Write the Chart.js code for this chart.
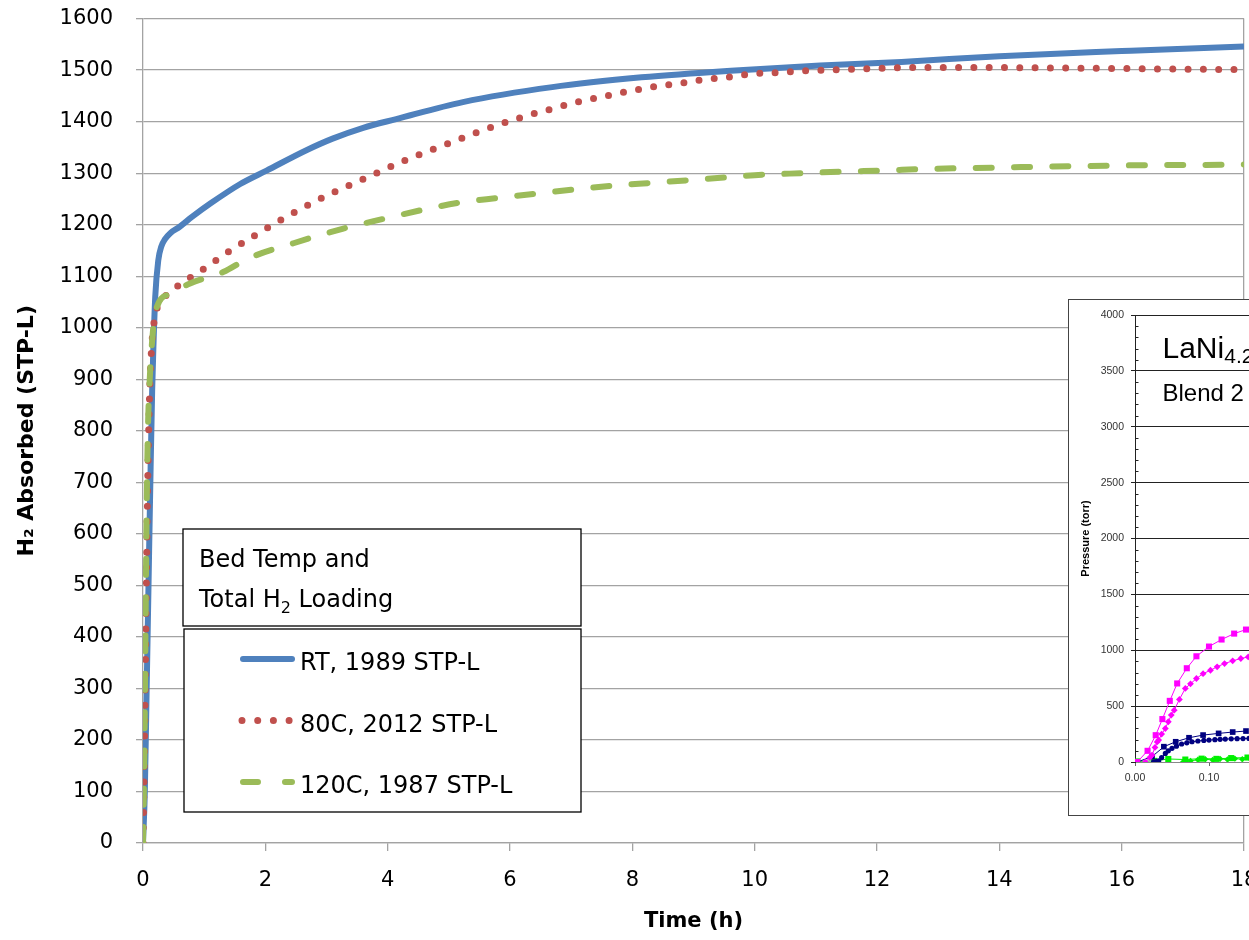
<!DOCTYPE html>
<html>
<head>
<meta charset="utf-8">
<script src="https://cdn.jsdelivr.net/npm/chart.js@4.4.1/dist/chart.umd.min.js"></script>
<style>
html, body { margin: 0; padding: 0; background: #fff; overflow: hidden; width: 1249px; height: 940px; }
#main { position: absolute; left: 0; top: -17px; }
#insetBox { position: absolute; left: 1068px; top: 299px; width: 460px; height: 515px;
  border: 1.5px solid #444; border-right: none; background: #fff; }
#inset { display: block; }
</style>
</head>
<body>
<canvas id="main" width="1300" height="957"></canvas>
<div id="insetBox"><canvas id="inset" width="380" height="515"></canvas></div>
<script>
// ---- main chart data (Time h / H2 absorbed STP-L) ----
const seriesLabels = ["RT, 1989 STP-L", "80C, 2012 STP-L", "120C, 1987 STP-L"];
const legendTitle = ["Bed Temp and", "Total H", "2", " Loading"];

const timeRT = [0, 0.03, 0.06, 0.09, 0.12, 0.15, 0.17, 0.2, 0.25, 0.3, 0.36, 0.45, 0.6, 0.8, 1.1, 1.59, 2.02, 2.68, 3.1, 3.6, 4.14, 5.23, 6.69, 8.15, 9.61, 11.07, 12.4, 14, 16, 18, 18.3];
const h2RT   = [0, 100, 300, 500, 700, 880, 962, 1060, 1131, 1158, 1172, 1184, 1196, 1215, 1241, 1279, 1305, 1345, 1367, 1388, 1405, 1438, 1467, 1486, 1499, 1509, 1516, 1527, 1537, 1546, 1547];

const time80 = [0, 0.02, 0.04, 0.06, 0.08, 0.11, 0.14, 0.17, 0.21, 0.33, 0.58, 0.99, 1.39, 1.8, 2.21, 2.62, 3.03, 3.44, 3.85, 4.25, 4.69, 5.09, 5.48, 5.89, 6.29, 6.69, 7.13, 7.53, 7.9, 8.37, 8.76, 9.12, 9.61, 9.98, 10.34, 10.86, 11.44, 12.17, 12.75, 14, 15, 16, 17, 18, 18.3];
const h280   = [0, 150, 350, 550, 720, 880, 960, 1001, 1030, 1056, 1082, 1114, 1147, 1177, 1206, 1233, 1258, 1280, 1302, 1323, 1344, 1362, 1380, 1397, 1412, 1425, 1439, 1449, 1458, 1468, 1474, 1481, 1487, 1493, 1495, 1499, 1501, 1504, 1505, 1505, 1504, 1503, 1502, 1501, 1501];

const time120 = [0, 0.02, 0.04, 0.06, 0.08, 0.11, 0.14, 0.2, 0.44, 0.77, 1.31, 1.73, 2.46, 3.26, 3.92, 4.58, 5.23, 5.82, 6.47, 7.1, 7.72, 8.3, 8.88, 9.54, 10.12, 10.78, 11.44, 12.1, 12.75, 14, 16, 18, 18.3];
const h2120   = [0, 150, 400, 650, 800, 900, 960, 1030, 1066, 1086, 1108, 1135, 1164, 1192, 1211, 1229, 1244, 1252, 1261, 1269, 1276, 1281, 1286, 1292, 1297, 1300, 1303, 1305, 1308, 1311, 1315, 1317, 1318];

// ---- inset data (Pressure torr vs time) ----
const insetTitle = ["LaNi", "4.25", "Blend 2"];
const magSqX = [0.003, 0.017, 0.028, 0.037, 0.047, 0.057, 0.07, 0.083, 0.1, 0.117, 0.134, 0.15];
const magSqY = [0, 100, 240, 384, 547, 703, 839, 946, 1033, 1096, 1149, 1185];
const magDiX = [0.014, 0.02, 0.023, 0.027, 0.03, 0.032, 0.036, 0.041, 0.045, 0.049, 0.053, 0.06, 0.068, 0.075, 0.083, 0.092, 0.102, 0.111, 0.121, 0.132, 0.143, 0.153];
const magDiY = [0, 40, 62, 130, 180, 196, 250, 300, 360, 420, 464, 560, 658, 700, 747, 790, 821, 852, 881, 905, 926, 940];
const navSqX = [0.003, 0.023, 0.039, 0.055, 0.073, 0.092, 0.113, 0.132, 0.15];
const navSqY = [0, 48, 137, 181, 217, 241, 256, 268, 277];
const navDotX = [0.025, 0.029, 0.032, 0.036, 0.041, 0.045, 0.05, 0.056, 0.063, 0.07, 0.077, 0.085, 0.093, 0.1, 0.108, 0.115, 0.122, 0.13, 0.138, 0.146, 0.154];
const navDotY = [0, 5, 10, 40, 77, 100, 122, 142, 161, 172, 181, 188, 193, 196, 200, 203, 205, 207, 209, 210, 211];
const grnSqX = [0.003, 0.026, 0.045, 0.068, 0.09, 0.11, 0.13, 0.152];
const grnSqY = [5, 10, 27, 22, 30, 28, 35, 40];
const grnDiX = [0.065, 0.075, 0.085, 0.095, 0.105, 0.115, 0.125, 0.135, 0.145, 0.155];
const grnDiY = [0, 10, 20, 25, 18, 28, 22, 30, 25, 32];

const pts = (xs, ys) => xs.map((x, i) => ({x: x, y: ys[i]}));

const BLUE = "#4F81BD", RED = "#C0504D", GREEN = "#9BBB59";
const GRID = "#a3a3a3";
const FONT = "DejaVu Sans";

// main canvas sits 17px above the page top (see #main css)
const mainShift = 17;

// legend drawn as two boxes like the Excel one
const boxLegend = {
    id: "boxLegend",
    afterDraw(chart){
        const ctx = chart.ctx;
        const d = mainShift;
        ctx.save();
        ctx.lineWidth = 1.3;
        ctx.strokeStyle = "#000";
        ctx.fillStyle = "#fff";
        ctx.fillRect(183, 529 + d, 398, 97);
        ctx.strokeRect(183, 529 + d, 398, 97);
        ctx.fillRect(184, 629 + d, 397, 183);
        ctx.strokeRect(184, 629 + d, 397, 183);

        ctx.fillStyle = "#000";
        ctx.textBaseline = "alphabetic";
        ctx.font = "24px '" + FONT + "'";
        ctx.fillText(legendTitle[0], 199, 567 + d);
        let x = 199;
        ctx.fillText(legendTitle[1], x, 607 + d);
        x += ctx.measureText(legendTitle[1]).width;
        ctx.font = "16px '" + FONT + "'";
        ctx.fillText(legendTitle[2], x, 613 + d);
        x += ctx.measureText(legendTitle[2]).width;
        ctx.font = "24px '" + FONT + "'";
        ctx.fillText(legendTitle[3], x, 607 + d);

        chart.data.datasets.forEach((ds, i) => {
            const y = 659 + i * 61.5 + d;
            ctx.strokeStyle = ds.borderColor;
            ctx.lineWidth = ds.borderWidth;
            ctx.lineCap = "round";
            ctx.setLineDash(ds.legendDash);
            ctx.beginPath();
            ctx.moveTo(ds.legendStart, y);
            ctx.lineTo(292, y);
            ctx.stroke();
            ctx.setLineDash([]);
            ctx.fillStyle = "#000";
            ctx.fillText(ds.label, 300, y + 11);
        });
        ctx.restore();
    }
};

new Chart(document.getElementById("main"), {
    type: "line",
    data: {
        datasets: [
            {
                label: seriesLabels[0],
                data: pts(timeRT, h2RT),
                borderColor: BLUE,
                borderWidth: 6,
                order: 3,
                legendDash: [],
                legendStart: 243
            },
            {
                label: seriesLabels[1],
                data: pts(time80, h280),
                borderColor: RED,
                borderWidth: 7,
                borderDash: [0, 15.3],
                borderCapStyle: "round",
                order: 2,
                legendDash: [0, 15.7],
                legendStart: 242
            },
            {
                label: seriesLabels[2],
                data: pts(time120, h2120),
                borderColor: GREEN,
                borderWidth: 6,
                borderDash: [16, 22.3],
                borderCapStyle: "round",
                order: 1,
                legendDash: [15, 27],
                legendStart: 243
            }
        ]
    },
    options: {
        responsive: false,
        maintainAspectRatio: false,
        animation: false,
        devicePixelRatio: 1,
        layout: { padding: { top: 18, right: 56, bottom: 0, left: 0 } },
        elements: {
            point: { radius: 0 },
            line: { cubicInterpolationMode: "monotone", fill: false }
        },
        plugins: { legend: { display: false }, tooltip: { enabled: false } },
        scales: {
            x: {
                type: "linear",
                min: 0,
                max: 18,
                ticks: { stepSize: 2, color: "#000", font: { family: FONT, size: 21 }, padding: 17, maxRotation: 0,
                         callback: v => String(v) },
                grid: {
                    color: c => (c.tick && c.tick.value === 18) ? GRID : "transparent",
                    tickColor: GRID,
                    tickLength: 8,
                    lineWidth: 1.3
                },
                border: { color: GRID, width: 1.3 },
                title: {
                    display: true,
                    text: "Time (h)",
                    color: "#000",
                    font: { family: FONT, size: 21, weight: "bold" },
                    padding: { top: 0, bottom: 6 }
                },
                afterFit: s => { s.height = 97; }
            },
            y: {
                min: 0,
                max: 1600,
                ticks: { stepSize: 100, autoSkip: false, color: "#000", font: { family: FONT, size: 21 }, padding: 23,
                         callback: v => String(v) },
                grid: { color: GRID, tickColor: GRID, tickLength: 7, lineWidth: 1.3 },
                border: { color: GRID, width: 1.3 },
                title: {
                    display: true,
                    text: "H\u2082 Absorbed (STP-L)",
                    color: "#000",
                    font: { family: FONT, size: 22, weight: "bold" },
                    padding: { top: 14, bottom: 0 }
                },
                afterFit: s => { s.width = 143; }
            }
        }
    },
    plugins: [boxLegend]
});

// ---- inset ----
const insetExtras = {
    id: "insetExtras",
    afterDraw(chart){
        const ctx = chart.ctx;
        const ys = chart.scales.y;
        const left = chart.chartArea.left;
        ctx.save();
        ctx.strokeStyle = "#222";
        ctx.lineWidth = 1;
        for (let v = 100; v < 4000; v += 100) {
            if (v % 500 === 0) continue;
            const py = Math.round(ys.getPixelForValue(v)) + 0.5;
            ctx.beginPath();
            ctx.moveTo(left, py);
            ctx.lineTo(left + 3.5, py);
            ctx.stroke();
        }
        ctx.fillStyle = "#000";
        ctx.textBaseline = "alphabetic";
        ctx.font = "30px 'Liberation Sans'";
        ctx.fillText(insetTitle[0], 93.5, 58);
        const w = ctx.measureText(insetTitle[0]).width;
        ctx.font = "21px 'Liberation Sans'";
        ctx.fillText(insetTitle[1], 93.5 + w, 63);
        ctx.font = "24px 'Liberation Sans'";
        ctx.fillText(insetTitle[2], 93.5, 101);
        ctx.restore();
    }
};

const MAG = "#FF00FF", NAVY = "#000080", LIME = "#00F000";
const insetSet = (xs, ys, color, style, r) => ({
    data: pts(xs, ys),
    borderColor: color,
    backgroundColor: color,
    borderWidth: 1,
    pointStyle: style,
    pointRadius: r,
    pointBorderWidth: 0
});

new Chart(document.getElementById("inset"), {
    type: "line",
    data: {
        datasets: [
            insetSet(magSqX, magSqY, MAG, "rect", 4.3),
            insetSet(magDiX, magDiY, MAG, "rectRot", 3.4),
            insetSet(navSqX, navSqY, NAVY, "rect", 4),
            insetSet(navDotX, navDotY, NAVY, "circle", 2.6),
            insetSet(grnSqX, grnSqY, LIME, "rect", 4.3),
            insetSet(grnDiX, grnDiY, LIME, "rectRot", 3.2)
        ]
    },
    options: {
        responsive: false,
        animation: false,
        devicePixelRatio: 1,
        layout: { padding: { top: 15, right: 18, bottom: 0, left: 0 } },
        plugins: { legend: { display: false }, tooltip: { enabled: false } },
        scales: {
            x: {
                type: "linear",
                min: 0,
                max: 0.4,
                ticks: { stepSize: 0.1, color: "#333", font: { family: "Liberation Sans", size: 10.5 }, padding: 6,
                         callback: v => v.toFixed(2) },
                grid: { drawOnChartArea: false, tickColor: "#666", tickLength: 4 },
                border: { color: "#888" },
                afterFit: s => { s.height = 53; }
            },
            y: {
                min: 0,
                max: 4000,
                ticks: { stepSize: 100, autoSkip: false, color: "#333", font: { family: "Liberation Sans", size: 10.5 }, padding: 7,
                         callback: v => (v % 500 === 0 ? String(v) : "") },
                grid: {
                    color: c => (c.tick && c.tick.value % 500 === 0 && c.tick.value > 0) ? "#222" : "transparent",
                    tickColor: c => (c.tick && c.tick.value % 500 === 0) ? "#222" : "transparent",
                    tickLength: 4
                },
                border: { color: "#222" },
                title: {
                    display: true,
                    text: "Pressure (torr)",
                    color: "#000",
                    font: { family: "Liberation Sans", size: 11, weight: "bold" },
                    padding: { top: 10, bottom: 0 }
                },
                afterFit: s => { s.width = 66; }
            }
        }
    },
    plugins: [insetExtras]
});
</script>
</body>
</html>
